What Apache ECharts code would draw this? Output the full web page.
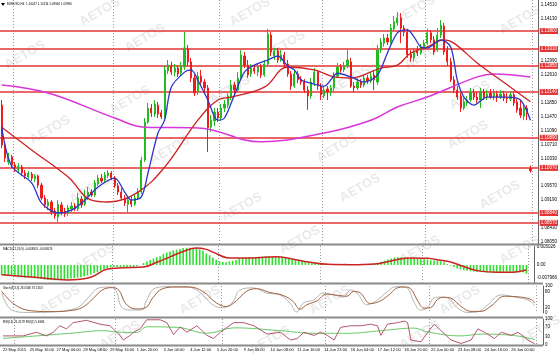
<!DOCTYPE html>
<html>
<head>
<meta charset="utf-8">
<script src="https://cdn.jsdelivr.net/npm/echarts@6/dist/echarts.min.js"></script>
<style>
html,body{margin:0;padding:0;background:#fff;}
#chart{width:560px;height:355px;}
</style>
</head>
<body>
<div id="chart"></div>
<script>
// EURUSD H4, 22 May - 29 Jun 2015
var timeLabels = ['22 May 2015','25 May 16:00','27 May 00:00','28 May 08:00','29 May 16:00','1 Jun 20:00',
  '3 Jun 04:00','4 Jun 12:00','5 Jun 20:00','9 Jun 00:00','10 Jun 08:00','11 Jun 16:00','14 Jun 23:00',
  '16 Jun 04:00','17 Jun 12:00','18 Jun 20:00','22 Jun 00:00','23 Jun 08:00','24 Jun 16:00','26 Jun 00:00'];

// [open, close, low, high]
var candles = [
  [1.1178,1.1069,1.1061,1.1192],[1.1069,1.1034,1.1023,1.1077],[1.1023,1.1039,1.1015,1.1048],[1.1037,1.1015,1.1007,1.1042],
  [1.1015,1.1007,1.0996,1.1023],[1.1001,1.1012,1.0993,1.1020],[1.1009,1.0993,1.0985,1.1015],[1.0993,1.0985,1.0977,1.1001],
  [1.0982,1.0993,1.0977,1.0998],[1.0990,1.0979,1.0971,1.0996],[1.0977,1.0985,1.0968,1.0990],[1.0985,1.0960,1.0952,1.0988],
  [1.0960,1.0925,1.0919,1.0966],[1.0925,1.0906,1.0898,1.0933],[1.0903,1.0914,1.0892,1.0922],[1.0914,1.0887,1.0878,1.0919],
  [1.0889,1.0876,1.0868,1.0898],[1.0873,1.0908,1.0859,1.0919],[1.0906,1.0887,1.0878,1.0914],[1.0889,1.0881,1.0873,1.0898],
  [1.0884,1.0898,1.0876,1.0906],[1.0895,1.0903,1.0887,1.0914],[1.0903,1.0895,1.0889,1.0911],[1.0895,1.0925,1.0889,1.0939],
  [1.0922,1.0906,1.0898,1.0930],[1.0908,1.0930,1.0903,1.0947],[1.0928,1.0941,1.0919,1.0955],[1.0941,1.0933,1.0928,1.0949],
  [1.0933,1.0966,1.0928,1.0974],[1.0963,1.0979,1.0958,1.0988],[1.0979,1.0971,1.0966,1.0990],[1.0974,1.0988,1.0968,1.0996],
  [1.0985,1.0993,1.0979,1.1001],[1.0993,1.0979,1.0974,1.0998],[1.0979,1.0958,1.0952,1.0985],[1.0958,1.0941,1.0933,1.0966],
  [1.0941,1.0925,1.0919,1.0952],[1.0925,1.0911,1.0903,1.0933],[1.0908,1.0919,1.0884,1.0928],[1.0919,1.0908,1.0900,1.0928],
  [1.0908,1.0925,1.0903,1.0933],[1.0925,1.0941,1.0919,1.0952],[1.0941,1.1028,1.0936,1.1037],[1.1028,1.1132,1.1023,1.1143],
  [1.1132,1.1170,1.1127,1.1184],[1.1170,1.1157,1.1146,1.1181],[1.1154,1.1181,1.1146,1.1192],[1.1178,1.1154,1.1143,1.1187],
  [1.1157,1.1146,1.1140,1.1165],[1.1146,1.1274,1.1140,1.1285],[1.1271,1.1287,1.1263,1.1301],[1.1285,1.1268,1.1260,1.1296],
  [1.1268,1.1279,1.1257,1.1290],[1.1279,1.1263,1.1255,1.1287],[1.1266,1.1285,1.1257,1.1296],[1.1282,1.1334,1.1274,1.1377],
  [1.1331,1.1296,1.1285,1.1342],[1.1296,1.1252,1.1241,1.1307],[1.1252,1.1211,1.1203,1.1260],[1.1214,1.1257,1.1206,1.1268],
  [1.1257,1.1241,1.1230,1.1274],[1.1241,1.1225,1.1214,1.1249],[1.1225,1.1116,1.1050,1.1233],[1.1118,1.1137,1.1105,1.1151],
  [1.1135,1.1159,1.1121,1.1170],[1.1159,1.1143,1.1132,1.1170],[1.1143,1.1170,1.1135,1.1181],[1.1170,1.1181,1.1159,1.1192],
  [1.1178,1.1203,1.1170,1.1214],[1.1200,1.1233,1.1192,1.1247],[1.1233,1.1219,1.1206,1.1241],[1.1219,1.1252,1.1214,1.1268],
  [1.1252,1.1315,1.1247,1.1328],[1.1312,1.1287,1.1279,1.1323],[1.1287,1.1260,1.1252,1.1301],[1.1263,1.1279,1.1255,1.1290],
  [1.1279,1.1271,1.1263,1.1287],[1.1268,1.1282,1.1257,1.1293],[1.1282,1.1260,1.1252,1.1290],[1.1260,1.1290,1.1255,1.1301],
  [1.1290,1.1372,1.1285,1.1386],[1.1369,1.1323,1.1312,1.1377],[1.1312,1.1326,1.1301,1.1334],[1.1326,1.1301,1.1293,1.1334],
  [1.1301,1.1315,1.1296,1.1328],[1.1315,1.1290,1.1282,1.1323],[1.1290,1.1263,1.1255,1.1301],[1.1263,1.1230,1.1219,1.1271],
  [1.1230,1.1263,1.1225,1.1274],[1.1263,1.1247,1.1238,1.1271],[1.1249,1.1241,1.1233,1.1257],[1.1241,1.1219,1.1211,1.1249],
  [1.1219,1.1203,1.1165,1.1230],[1.1203,1.1241,1.1195,1.1252],[1.1238,1.1268,1.1230,1.1279],[1.1268,1.1230,1.1219,1.1274],
  [1.1230,1.1206,1.1192,1.1238],[1.1203,1.1219,1.1197,1.1230],[1.1222,1.1214,1.1192,1.1230],[1.1214,1.1225,1.1203,1.1233],
  [1.1225,1.1260,1.1217,1.1268],[1.1257,1.1282,1.1252,1.1293],[1.1282,1.1274,1.1266,1.1290],[1.1274,1.1285,1.1268,1.1296],
  [1.1285,1.1301,1.1279,1.1328],[1.1296,1.1230,1.1225,1.1307],[1.1230,1.1225,1.1214,1.1241],[1.1225,1.1241,1.1219,1.1252],
  [1.1241,1.1233,1.1225,1.1249],[1.1233,1.1252,1.1227,1.1260],[1.1252,1.1244,1.1236,1.1260],[1.1244,1.1257,1.1238,1.1268],
  [1.1260,1.1247,1.1219,1.1274],[1.1241,1.1328,1.1233,1.1342],[1.1328,1.1350,1.1320,1.1361],[1.1347,1.1361,1.1337,1.1372],
  [1.1361,1.1350,1.1342,1.1372],[1.1350,1.1388,1.1345,1.1399],[1.1386,1.1405,1.1380,1.1421],[1.1402,1.1416,1.1394,1.1432],
  [1.1416,1.1388,1.1347,1.1429],[1.1388,1.1377,1.1366,1.1396],[1.1377,1.1315,1.1307,1.1386],[1.1317,1.1307,1.1296,1.1328],
  [1.1307,1.1323,1.1296,1.1334],[1.1328,1.1320,1.1312,1.1339],[1.1320,1.1337,1.1315,1.1345],[1.1337,1.1347,1.1328,1.1356],
  [1.1347,1.1375,1.1342,1.1386],[1.1375,1.1356,1.1347,1.1383],[1.1356,1.1323,1.1315,1.1366],[1.1328,1.1369,1.1323,1.1388],
  [1.1369,1.1396,1.1361,1.1410],[1.1394,1.1323,1.1315,1.1402],[1.1328,1.1296,1.1285,1.1339],[1.1296,1.1247,1.1241,1.1307],
  [1.1247,1.1219,1.1211,1.1257],[1.1219,1.1200,1.1192,1.1230],[1.1203,1.1170,1.1159,1.1211],[1.1170,1.1187,1.1165,1.1197],
  [1.1184,1.1192,1.1176,1.1203],[1.1192,1.1211,1.1187,1.1225],[1.1211,1.1200,1.1192,1.1222],[1.1200,1.1192,1.1184,1.1214],
  [1.1192,1.1214,1.1170,1.1225],[1.1214,1.1200,1.1192,1.1222],[1.1200,1.1208,1.1192,1.1219],[1.1211,1.1200,1.1195,1.1222],
  [1.1200,1.1211,1.1192,1.1222],[1.1208,1.1200,1.1187,1.1217],[1.1200,1.1208,1.1195,1.1219],[1.1208,1.1197,1.1189,1.1217],
  [1.1197,1.1195,1.1184,1.1211],[1.1195,1.1206,1.1189,1.1214],[1.1206,1.1184,1.1176,1.1214],[1.1187,1.1165,1.1157,1.1197],
  [1.1170,1.1151,1.1143,1.1192],[1.1148,1.1170,1.1137,1.1181],[1.1170,1.1159,1.1137,1.1178],[1.10047,1.09990,1.09940,1.10134]
];

// moving averages read at [candle index, price]
var maFast = [[0,1.1118],[3,1.1012],[9,1.0966],[12,1.0911],[17,1.0884],[21,1.0892],[25,1.0919],[29,1.0955],[34,1.0979],
  [37,1.0941],[39,1.0919],[42,1.0928],[44,1.0993],[47,1.1102],[49,1.1137],[51,1.1227],[55,1.1268],[57,1.1274],[59,1.1246],
  [62,1.1192],[65,1.1137],[67,1.1143],[70,1.1206],[73,1.1268],[76,1.1287],[80,1.1301],[83,1.1312],[86,1.1285],[88,1.1274],
  [90,1.1247],[93,1.1238],[97,1.1230],[101,1.1265],[105,1.1255],[109,1.1241],[113,1.1260],[116,1.1320],[119,1.1375],
  [122,1.1383],[124,1.1364],[126,1.1337],[128,1.1334],[132,1.1356],[135,1.1337],[137,1.1247],[139,1.1200],[142,1.1178],
  [146,1.1200],[152,1.1200],[156,1.1192],[159,1.1137]];
var maMid = [[0,1.1118],[9,1.1056],[20,1.0982],[27,1.0919],[32,1.0914],[41,1.0941],[49,1.1009],[59,1.1137],[65,1.1192],
  [69,1.1200],[79,1.1227],[86,1.1282],[94,1.1274],[100,1.1255],[105,1.1252],[114,1.1279],[119,1.1287],[123,1.1320],
  [128,1.1337],[133,1.1356],[136,1.1347],[143,1.1293],[153,1.1227],[159,1.1187]];
var maSlow = [[0,1.1233],[14,1.1211],[34,1.1143],[43,1.1118],[59,1.1116],[78,1.1078],[97,1.1102],[111,1.1137],
  [119,1.1173],[128,1.1200],[143,1.1255],[148,1.1263],[159,1.1255]];

var levels = [1.13800, 1.13310, 1.12850, 1.12140, 1.10890, 1.10070, 1.08840, 1.08570];
var lastPrice = 1.09990;
var priceTicks = [1.08050, 1.08430, 1.09190, 1.09570, 1.10330, 1.10710, 1.11090, 1.11470, 1.11850, 1.12610, 1.12990, 1.14130, 1.14510];

var macdHist = [
  -0.0029,-0.0030,-0.0031,-0.0032,-0.0033,-0.0035,-0.0036,-0.0037,-0.0037,-0.0038,
  -0.0039,-0.0040,-0.0041,-0.0043,-0.0044,-0.0044,-0.0045,-0.0044,-0.0044,-0.0043,
  -0.0041,-0.0040,-0.0039,-0.0037,-0.0036,-0.0034,-0.0031,-0.0028,-0.0024,-0.0021,
  -0.0017,-0.0013,-0.0009,-0.0007,-0.0006,-0.0006,-0.0007,-0.0008,-0.0008,-0.0007,
  -0.0006,-0.0004,0.0000,0.0006,0.0011,0.0015,0.0019,0.0023,0.0026,0.0033,
  0.0037,0.0040,0.0043,0.0045,0.0047,0.0050,0.0051,0.0051,0.0050,0.0049,
  0.0046,0.0042,0.0034,0.0029,0.0022,0.0015,0.0011,0.0009,0.0008,0.0011,
  0.0013,0.0015,0.0019,0.0021,0.0022,0.0023,0.0023,0.0023,0.0024,0.0024,
  0.0026,0.0026,0.0025,0.0025,0.0024,0.0023,0.0021,0.0018,0.0017,0.0016,
  0.0014,0.0012,0.0010,0.0009,0.0009,0.0007,0.0005,0.0004,0.0003,0.0002,
  0.0002,0.0003,0.0003,0.0003,0.0004,0.0002,0.0001,0.0001,0.0001,0.0001,
  0.0001,0.0001,0.0001,0.0004,0.0007,0.0010,0.0013,0.0016,0.0019,0.0022,
  0.0023,0.0023,0.0022,0.0021,0.0020,0.0019,0.0018,0.0017,0.0017,0.0016,
  0.0014,0.0013,0.0013,0.0011,0.0008,0.0003,-0.0002,-0.0006,-0.0010,-0.0013,
  -0.0015,-0.0017,-0.0018,-0.0019,-0.0020,-0.0021,-0.0021,-0.0022,-0.0022,-0.0022,
  -0.0022,-0.0022,-0.0022,-0.0022,-0.0022,-0.0022,-0.0022,-0.0021,-0.0021,-0.0026];
var macdSignal = [[0,-0.0029],[10,-0.0036],[20,-0.0044],[27,-0.0036],[32,-0.0012],[37,-0.0008],[43,-0.0006],[47,0.0008],
  [51,0.0024],[55,0.0040],[59,0.0050],[62,0.0046],[64,0.0038],[69,0.0021],[76,0.0021],[83,0.0024],[88,0.0018],[93,0.0009],
  [99,0.0002],[106,0.0001],[113,0.0003],[118,0.0012],[123,0.0021],[129,0.0020],[133,0.0014],[136,0.0009],[141,-0.0008],
  [145,-0.0018],[150,-0.0021],[155,-0.0021],[159,-0.0015]];
var macdTickText = ['0.005026', '0.00', '-0.007966'];

var stochMain = [[0,74],[3,11],[8,2],[15,4],[20,11],[23,22],[26,59],[29,93],[32,96],[34,85],[36,19],[39,11],[42,11],
  [43,41],[46,93],[51,98],[55,98],[59,78],[63,30],[66,19],[69,41],[71,85],[75,93],[79,74],[83,67],[86,37],[88,4],[90,37],
  [93,48],[96,74],[99,67],[102,59],[104,85],[106,74],[109,30],[112,48],[115,78],[117,96],[119,98],[121,93],[123,41],
  [125,11],[127,19],[129,56],[131,59],[133,56],[136,19],[139,2],[142,4],[145,30],[149,67],[153,59],[157,48],[159,28]];
var stochSignal = [[0,80],[4,30],[9,8],[16,5],[21,10],[24,20],[27,50],[30,85],[33,94],[35,84],[37,35],[40,15],[43,20],
  [45,55],[48,90],[52,96],[56,96],[60,80],[64,38],[67,24],[70,45],[73,80],[76,90],[80,76],[84,65],[87,42],[89,14],[91,30],
  [94,45],[97,70],[100,66],[103,62],[105,80],[107,74],[110,35],[113,45],[116,72],[118,93],[120,96],[122,90],[124,48],
  [126,18],[128,20],[130,50],[132,58],[134,55],[137,25],[140,6],[143,6],[146,26],[150,62],[154,60],[158,50],[159,37]];

var rsiFast = [[0,35],[6,35],[10,49],[13,35],[15,49],[17,74],[19,62],[21,86],[25,95],[29,80],[32,74],[35,37],[36,19],
  [38,37],[39,49],[41,62],[43,97],[47,97],[49,86],[51,40],[53,70],[55,49],[58,74],[61,37],[63,25],[65,49],[69,86],[72,86],
  [75,74],[79,42],[83,49],[86,19],[88,25],[90,49],[93,37],[95,49],[97,37],[99,19],[101,68],[104,74],[107,74],[110,80],
  [112,74],[113,37],[115,80],[118,86],[120,92],[121,86],[122,19],[125,12],[127,49],[129,80],[131,55],[134,19],[137,6],
  [140,19],[142,62],[144,49],[147,25],[149,49],[152,37],[154,49],[157,19],[159,5]];
var rsiSlow = [[0,25],[10,35],[20,45],[30,55],[34,50],[40,48],[43,70],[52,68],[61,45],[69,66],[83,55],[93,45],[103,45],
  [113,55],[123,65],[127,50],[137,35],[143,42],[153,36],[159,21]];

var N = 162;
var cats = [];
for (var i = 0; i < N; i++) cats.push(i);
var vLines = [4, 34, 66, 97, 128, 160];
var FONT = '"Liberation Sans", Arial, sans-serif';
var PLOT_R = 543;

function xAx(gi, labels) {
  return {
    type: 'category', gridIndex: gi, data: cats, boundaryGap: true,
    axisLine: {show: false}, axisTick: {show: false},
    axisLabel: labels ? {
      show: true, fontSize: 4, color: '#000', fontFamily: FONT, align: 'left', margin: 3,
      interval: function (idx) { return idx % 8 === 0 && idx / 8 < timeLabels.length; },
      formatter: function (v, idx) { return timeLabels[idx / 8] || ''; }
    } : {show: false},
    splitLine: {show: true, interval: function (idx) { return vLines.indexOf(idx) >= 0; },
      lineStyle: {color: '#9a9a9a', width: 1, type: [1, 2]}}
  };
}
function yAx(gi, min, max, ticks, fmt) {
  return {
    type: 'value', gridIndex: gi, position: 'right', min: min, max: max,
    axisLine: {show: true, lineStyle: {color: '#666', width: 1}}, axisTick: {show: false},
    splitLine: {show: false},
    axisLabel: {customValues: ticks, formatter: fmt, fontSize: 4.5, color: '#000', fontFamily: FONT, margin: 2}
  };
}

var wmPos = [[100,12],[145,38],[250,12],[285,45],[415,10],[425,55],[520,20],[25,55],[130,100],[230,90],[350,80],
  [470,95],[50,130],[170,150],[337,148],[468,135],[242,207],[360,188],[90,190],[500,195],[95,258],[300,240],[420,250],
  [520,250],[200,300],[330,300],[460,300],[60,300],[120,335],[270,340],[420,335],[540,330]];

var graphics = [];
wmPos.forEach(function (p) {
  graphics.push({type: 'text', x: p[0], y: p[1], rotation: Math.PI / 6, silent: true, z: 0,
    style: {text: 'AETOS', font: 'bold 13px ' + FONT, fill: 'rgba(0,0,0,0.09)', align: 'center', verticalAlign: 'middle'}});
});
[244.5, 283.5, 317.5, 345.5].forEach(function (y) {
  graphics.push({type: 'line', shape: {x1: 0, y1: y, x2: PLOT_R, y2: y}, style: {stroke: '#8a8a8a', lineWidth: 2}, z: 5});
});
graphics.push({type: 'polygon', shape: {points: [[1, 3], [5, 3], [3, 6]]}, style: {fill: '#000'}, z: 6});
graphics.push({type: 'text', x: 7, y: 4.5, z: 6, style: {text: 'EURUSD,H4  1.10047 1.10134 1.09940 1.09990',
  font: '3px ' + FONT, fill: '#000', verticalAlign: 'middle'}});
graphics.push({type: 'text', x: 3, y: 249, z: 6, style: {text: 'MACD(12,26,9) -0.003801 -0.003674',
  font: '3px ' + FONT, fill: '#000', verticalAlign: 'middle'}});
graphics.push({type: 'text', x: 3, y: 288, z: 6, style: {text: 'Stoch(8,3,3) 28.0348 37.1653',
  font: '3px ' + FONT, fill: '#000', verticalAlign: 'middle'}});
graphics.push({type: 'text', x: 3, y: 322, z: 6, style: {text: 'RSI(14) 21.4178 RSI(2) 5.4984',
  font: '3px ' + FONT, fill: '#000', verticalAlign: 'middle'}});

var levelMarks = levels.map(function (v) {
  return {yAxis: v, lineStyle: {color: '#e23434', width: 1.5, type: 'solid'},
    label: {backgroundColor: '#e23434', color: '#fff'}};
});
levelMarks.push({yAxis: lastPrice, lineStyle: {opacity: 0},
  label: {backgroundColor: '#111', color: '#fff'}});

var chart = echarts.init(document.getElementById('chart'), null, {renderer: 'canvas'});
chart.setOption({
  animation: false,
  backgroundColor: '#fff',
  grid: [
    {left: 0, right: 560 - PLOT_R, top: 0, height: 244},
    {left: 0, right: 560 - PLOT_R, top: 246, height: 37},
    {left: 0, right: 560 - PLOT_R, top: 286, height: 27},
    {left: 0, right: 560 - PLOT_R, top: 319, height: 26}
  ],
  xAxis: [xAx(0, false), xAx(1, false), xAx(2, false), xAx(3, true)],
  yAxis: [
    yAx(0, 1.07995, 1.14646, priceTicks, function (v) { return v.toFixed(5); }),
    yAx(1, -0.0053, 0.0056, [0.0053, 0, -0.0038], function (v) {
      return v > 0 ? macdTickText[0] : (v < 0 ? macdTickText[2] : macdTickText[1]); }),
    yAx(2, 0, 100, [0, 20, 80, 100], function (v) { return String(v); }),
    yAx(3, 0, 100, [0, 30, 70, 100], function (v) { return String(v); })
  ],
  graphic: graphics,
  series: [
    {type: 'candlestick', xAxisIndex: 0, yAxisIndex: 0, data: candles, barMaxWidth: 2, z: 3,
      itemStyle: {color: '#22bb22', color0: '#ee1d1d', borderColor: '#22bb22', borderColor0: '#ee1d1d', borderWidth: 1},
      markLine: {silent: true, symbol: ['none', 'none'], animation: false, precision: 5, z: 2,
        label: {show: true, position: 'end', distance: 1, fontSize: 4.5, fontFamily: FONT, padding: [1, 1, 0, 1],
          formatter: function (p) { return Number(p.value).toFixed(5); }},
        data: levelMarks}},
    {type: 'line', xAxisIndex: 0, yAxisIndex: 0, data: maSlow, smooth: 0.4, showSymbol: false, z: 4,
      lineStyle: {color: '#d936d9', width: 1.5}},
    {type: 'line', xAxisIndex: 0, yAxisIndex: 0, data: maMid, smooth: 0.4, showSymbol: false, z: 4,
      lineStyle: {color: '#cc2222', width: 1.3}},
    {type: 'line', xAxisIndex: 0, yAxisIndex: 0, data: maFast, smooth: 0.3, showSymbol: false, z: 4,
      lineStyle: {color: '#2b35c8', width: 1.3}},
    {type: 'bar', xAxisIndex: 1, yAxisIndex: 1, data: macdHist, barWidth: 1.6, itemStyle: {color: '#2ee02e'}},
    {type: 'line', xAxisIndex: 1, yAxisIndex: 1, data: macdSignal, smooth: 0.4, showSymbol: false, z: 4,
      lineStyle: {color: '#cc2222', width: 1.5}},
    {type: 'line', xAxisIndex: 2, yAxisIndex: 2, data: stochMain, smooth: 0.4, showSymbol: false,
      lineStyle: {color: '#b5b5b5', width: 1}},
    {type: 'line', xAxisIndex: 2, yAxisIndex: 2, data: stochSignal, smooth: 0.4, showSymbol: false,
      lineStyle: {color: '#a0603f', width: 1}},
    {type: 'line', xAxisIndex: 3, yAxisIndex: 3, data: rsiSlow, smooth: 0.4, showSymbol: false,
      lineStyle: {color: '#66cc66', width: 1}},
    {type: 'line', xAxisIndex: 3, yAxisIndex: 3, data: rsiFast, showSymbol: false,
      lineStyle: {color: '#b5566a', width: 1}}
  ]
});
</script>
</body>
</html>
